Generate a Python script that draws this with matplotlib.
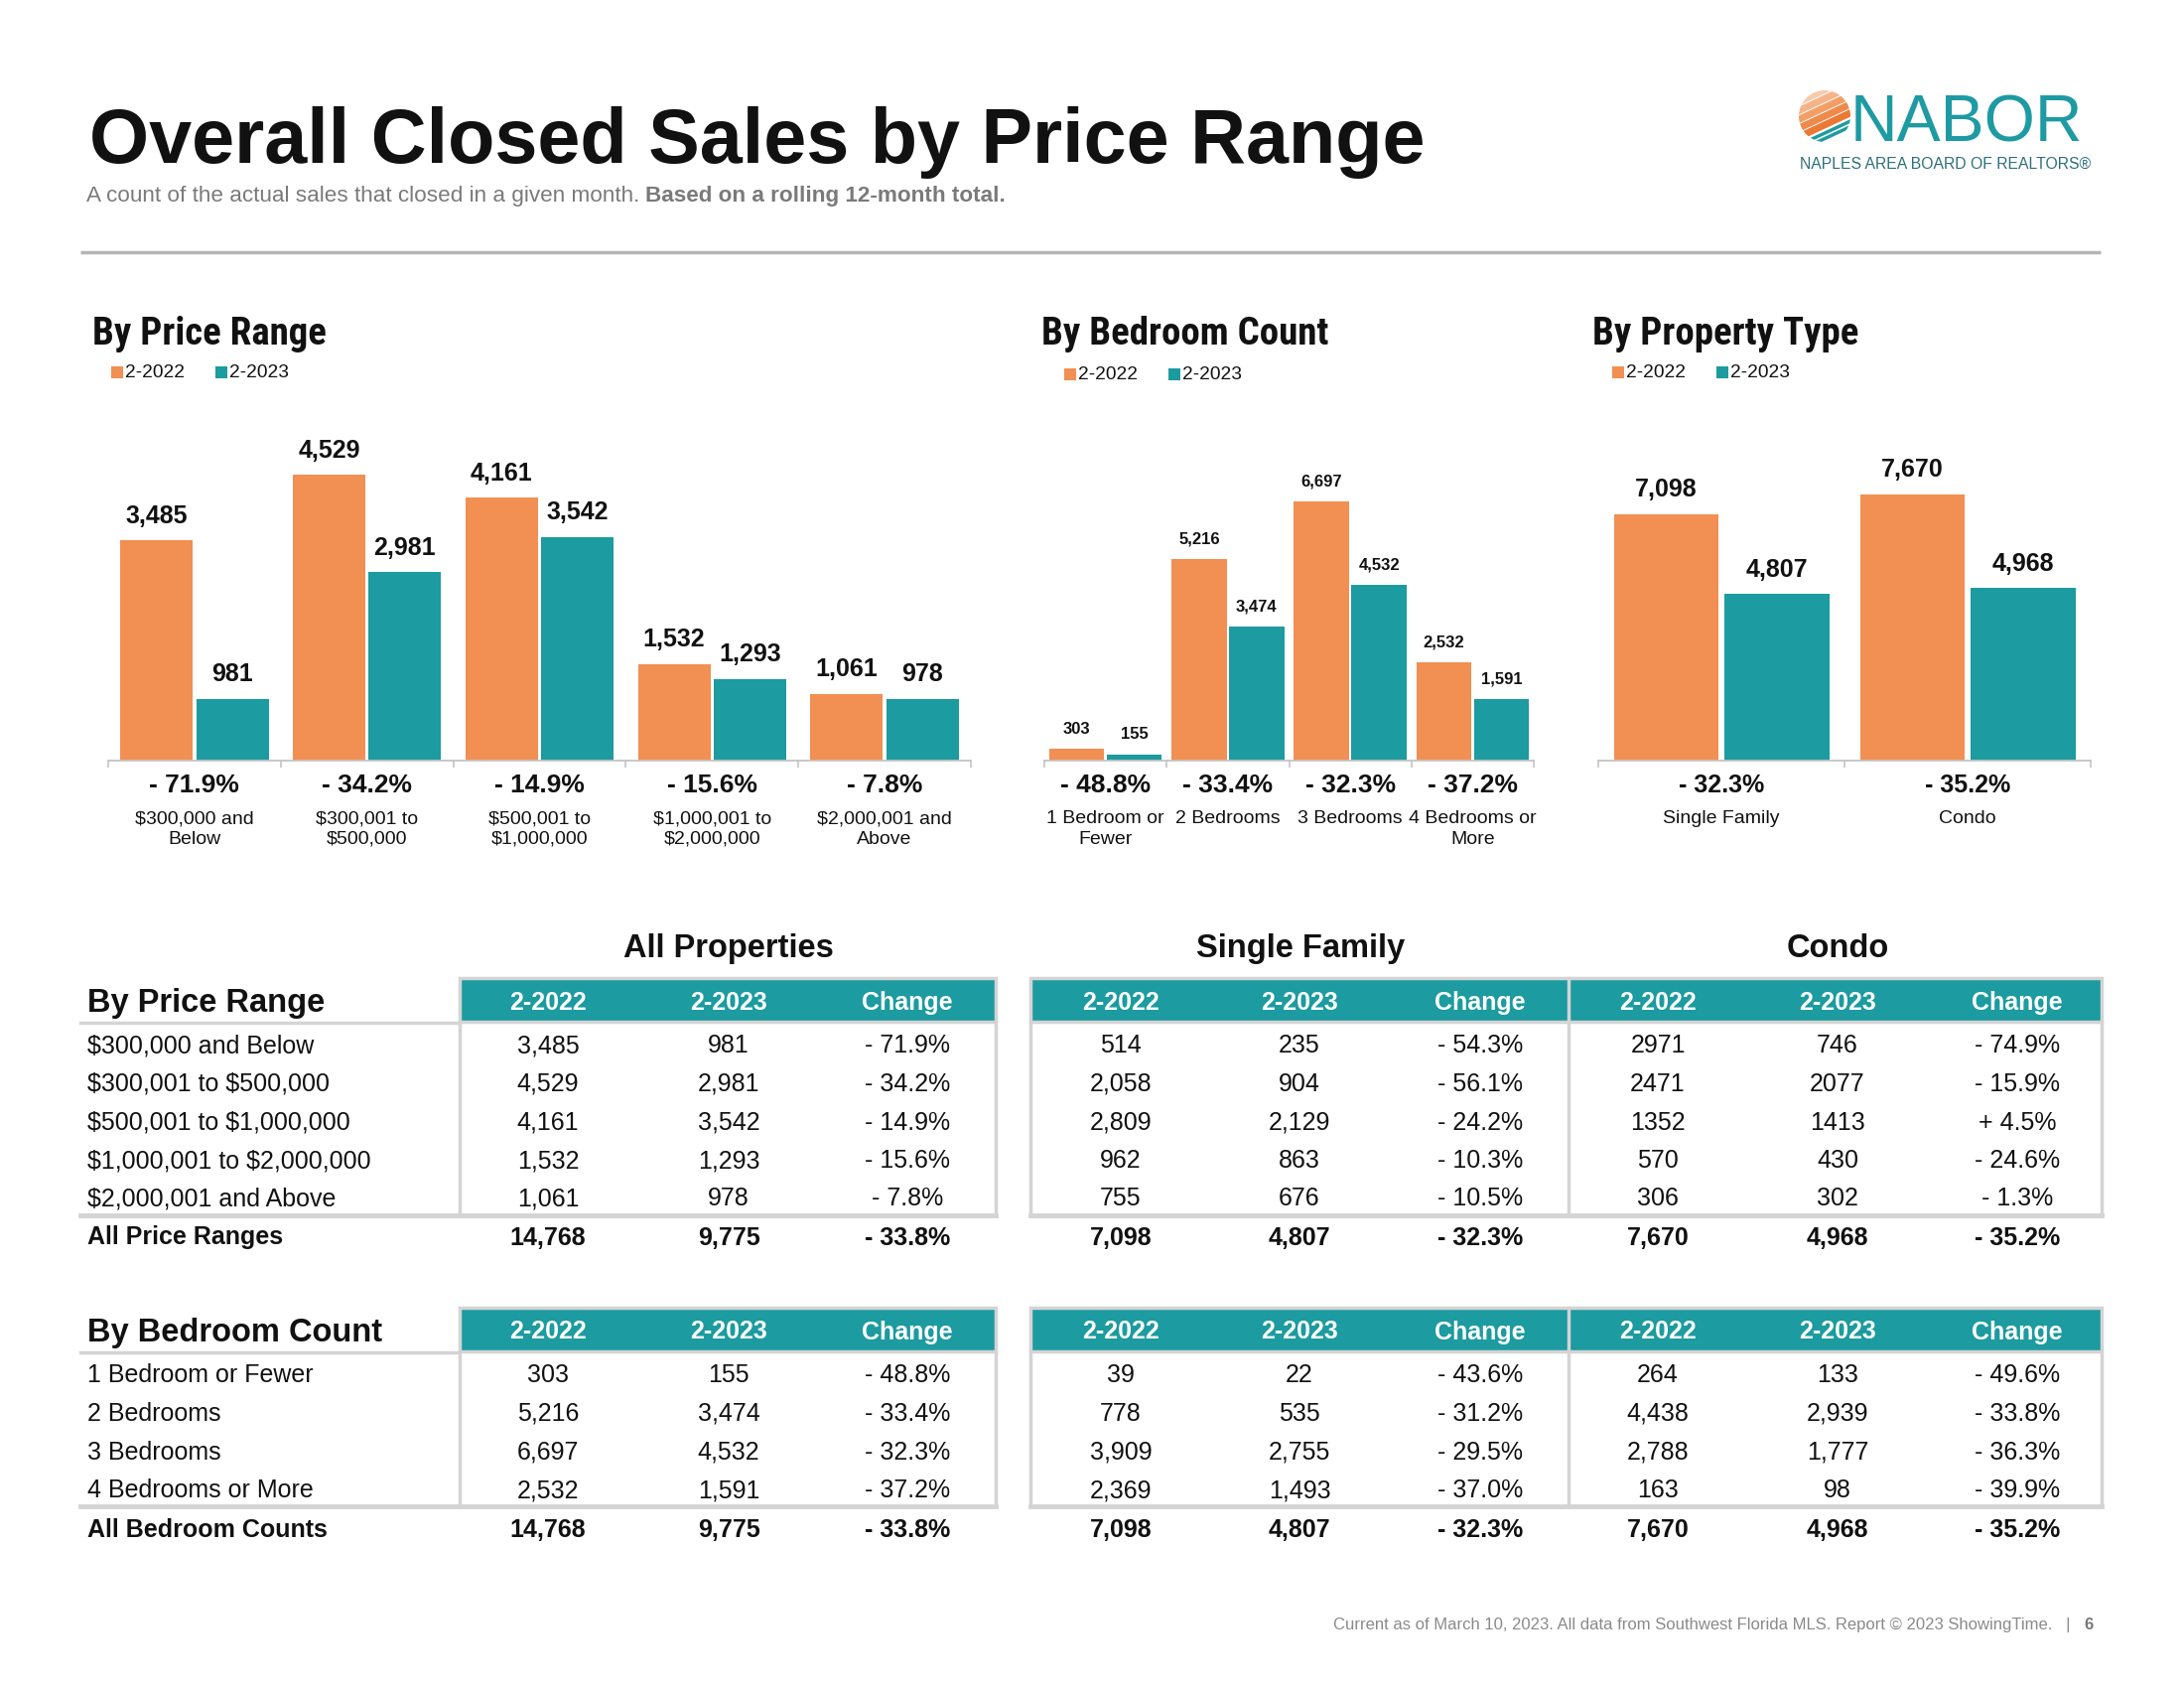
import matplotlib.pyplot as plt
from matplotlib.patches import Rectangle, Circle
import numpy as np

plt.rcParams['font.family'] = ['Liberation Sans', 'DejaVu Sans']
NARROW = ['Roboto Condensed', 'Liberation Sans Narrow', 'Roboto', 'Liberation Sans']

ORANGE = '#F28F52'
TEAL = '#1C9BA0'
INK = '#111111'

# ---- data -------------------------------------------------------------
years = ['2-2022', '2-2023']

price_ticks = ['$300,000 and\nBelow', '$300,001 to\n$500,000', '$500,001 to\n$1,000,000',
               '$1,000,001 to\n$2,000,000', '$2,000,001 and\nAbove']
price_rows = ['$300,000 and Below', '$300,001 to $500,000', '$500,001 to $1,000,000',
              '$1,000,001 to $2,000,000', '$2,000,001 and Above']
price_2022 = [3485, 4529, 4161, 1532, 1061]
price_2023 = [981, 2981, 3542, 1293, 978]
price_chg = [-71.9, -34.2, -14.9, -15.6, -7.8]

bed_ticks = ['1 Bedroom or\nFewer', '2 Bedrooms', '3 Bedrooms', '4 Bedrooms or\nMore']
bed_rows = ['1 Bedroom or Fewer', '2 Bedrooms', '3 Bedrooms', '4 Bedrooms or More']
bed_2022 = [303, 5216, 6697, 2532]
bed_2023 = [155, 3474, 4532, 1591]
bed_chg = [-48.8, -33.4, -32.3, -37.2]

type_ticks = ['Single Family', 'Condo']
type_2022 = [7098, 7670]
type_2023 = [4807, 4968]
type_chg = [-32.3, -35.2]

sf_price_2022 = [514, 2058, 2809, 962, 755]
sf_price_2023 = [235, 904, 2129, 863, 676]
sf_price_chg = [-54.3, -56.1, -24.2, -10.3, -10.5]
condo_price_2022 = [2971, 2471, 1352, 570, 306]
condo_price_2023 = [746, 2077, 1413, 430, 302]
condo_price_chg = [-74.9, -15.9, 4.5, -24.6, -1.3]

sf_bed_2022 = [39, 778, 3909, 2369]
sf_bed_2023 = [22, 535, 2755, 1493]
sf_bed_chg = [-43.6, -31.2, -29.5, -37.0]
condo_bed_2022 = [264, 4438, 2788, 163]
condo_bed_2023 = [133, 2939, 1777, 98]
condo_bed_chg = [-49.6, -33.8, -36.3, -39.9]

total_all = [14768, 9775, -33.8]
total_sf = [7098, 4807, -32.3]
total_condo = [7670, 4968, -35.2]


def pct(v):
    return ('+ ' if v > 0 else '- ') + f'{abs(v):.1f}%'


fig = plt.figure(figsize=(22, 17), dpi=100)
fig.patch.set_facecolor('white')

# overlay in pixel coords for page furniture and tables
ov = fig.add_axes([0, 0, 1, 1])
ov.set_xlim(0, 2200)
ov.set_ylim(1700, 0)
ov.axis('off')

# header
ov.text(90, 164, 'Overall Closed Sales by Price Range', fontsize=55.7, fontweight='bold',
        color=INK, va='baseline')
t1 = ov.text(87, 203, 'A count of the actual sales that closed in a given month. ',
             fontsize=16.2, color='#7a7a7a', va='baseline')
ov.annotate('Based on a rolling 12-month total.', xy=(1, 0), xycoords=t1, va='bottom',
            fontsize=16.2, color='#7a7a7a', fontweight='bold')
ov.plot([81, 2116], [254, 254], color='#B5B5B5', lw=2.5, solid_capstyle='butt')

# logo: shell made of tilted bands
shell = Circle((1838, 117), 26, facecolor='none', edgecolor='none')
ov.add_patch(shell)
ang = np.radians(25)
nrm = np.array([np.sin(ang), np.cos(ang)])
shades = ['#F8CBAA', '#F6B388', '#F49E65', '#F0894A', '#ED7834']
bands = [(t, c, 7.0) for t, c in zip([-24, -16, -8, 0, 8], shades)]
bands += [(15.5, TEAL, 3.4), (20.5, TEAL, 3.4)]
for t, c, h in bands:
    cx, cy = np.array([1838, 117]) + t * nrm
    r = Rectangle((cx - 50, cy - h / 2), 100, h, angle=-25, rotation_point='center',
                  facecolor=c, edgecolor='none')
    ov.add_patch(r)
    r.set_clip_path(shell)
ov.text(1864, 142, 'NABOR', fontsize=47.5, color='#1E9AA3', va='baseline')
ov.text(1813, 170, 'NAPLES AREA BOARD OF REALTORS®', fontsize=11.3, color='#2D6F7C',
        va='baseline')

# footer
t6 = ov.text(2109, 1641, '6', fontsize=12, fontweight='bold', color='#777777',
             ha='right', va='baseline')
ov.annotate('Current as of March 10, 2023. All data from Southwest Florida MLS. '
            'Report © 2023 ShowingTime.   |   ', xy=(0, 0), xycoords=t6, ha='right',
            va='bottom', fontsize=12, color='#8a8a8a')


# ---- bar charts -------------------------------------------------------
def legend_at(x, y):
    for k, (lab, col) in enumerate(zip(years, [ORANGE, TEAL])):
        xx = x + k * 105
        ov.scatter([xx], [y], marker='s', s=70, color=col, linewidths=0)
        ov.text(xx + 8, y, lab, fontsize=13.8, va='center', color=INK)


def bar_chart(left, right, title, tx, lx, cats, v1, v2, chg, ymax, width, off,
              val_fs, chg_fs):
    ax = fig.add_axes([left / 2200, 1 - 766 / 1700, (right - left) / 2200, 336 / 1700])
    x = np.arange(len(cats))
    b1 = ax.bar(x - off, v1, width, color=ORANGE)
    b2 = ax.bar(x + off, v2, width, color=TEAL)
    ax.bar_label(b1, labels=[f'{v:,}' for v in v1], padding=9, fontsize=val_fs,
                 fontweight='bold', color=INK)
    ax.bar_label(b2, labels=[f'{v:,}' for v in v2], padding=9, fontsize=val_fs,
                 fontweight='bold', color=INK)
    ax.set_xlim(-0.5, len(cats) - 0.5)
    ax.set_ylim(0, ymax)
    for s in ('top', 'left', 'right'):
        ax.spines[s].set_visible(False)
    ax.spines['bottom'].set_color('#C4C4C4')
    ax.spines['bottom'].set_linewidth(1.3)
    ax.set_yticks([])
    ax.set_xticks(np.arange(len(cats) + 1) - 0.5)
    ax.set_xticklabels([])
    ax.tick_params(axis='x', length=5, width=1.2, color='#C4C4C4')
    ax.patch.set_alpha(0)
    for i, (c, p) in enumerate(zip(cats, chg)):
        ax.annotate(pct(p), (i, 0), xycoords=('data', 'axes fraction'), xytext=(0, -16.5),
                    textcoords='offset points', ha='center', va='center_baseline',
                    fontsize=chg_fs, fontweight='bold', color=INK)
        ax.annotate(c, (i, 0), xycoords=('data', 'axes fraction'), xytext=(0, -36),
                    textcoords='offset points', ha='center', va='top', fontsize=14,
                    color=INK, linespacing=1.3, parse_math=False)
    ov.text(tx, 347, title, fontsize=28, fontweight='bold', family=NARROW,
            fontstretch='condensed', va='baseline', color=INK)
    legend_at(*lx)
    return ax


bar_chart(109, 978, 'By Price Range', 93, (118, 375), price_ticks, price_2022, price_2023,
          price_chg, 5284, 0.42, 0.22, 18, 19)
bar_chart(1052, 1545, 'By Bedroom Count', 1049, (1078, 377), bed_ticks, bed_2022, bed_2023,
          bed_chg, 8621, 0.45, 0.235, 12, 19)
bar_chart(1610, 2106, 'By Property Type', 1604, (1630, 375), type_ticks, type_2022, type_2023,
          type_chg, 9616, 0.427, 0.224, 18, 18)

# ---- tables -----------------------------------------------------------
cols_all = [552, 734, 914]
cols_sf = [1129, 1309, 1491]
cols_condo = [1670, 1851, 2032]

ov.text(734, 964, 'All Properties', fontsize=23.5, fontweight='bold', ha='center',
        va='baseline', color=INK)
ov.text(1310, 964, 'Single Family', fontsize=23.5, fontweight='bold', ha='center',
        va='baseline', color=INK)
ov.text(1851, 964, 'Condo', fontsize=23.5, fontweight='bold', ha='center',
        va='baseline', color=INK)


def table(band_top, title, rows, total_label, blocks, bottom_y, total_y):
    band_bot = band_top + 44
    row_y = [band_bot + 22 + i * 38.5 for i in range(len(rows))]
    # header bands
    for x0, x1 in ((463, 1003), (1038, 2117)):
        ov.add_patch(Rectangle((x0, band_top), x1 - x0, band_bot - band_top,
                               facecolor=TEAL, edgecolor='#D4D4D4', lw=2.5, zorder=2))
        ov.plot([x0, x0], [band_bot, bottom_y], color='#D4D4D4', lw=2.5)
        ov.plot([x1, x1], [band_bot, bottom_y], color='#D4D4D4', lw=2.5)
    ov.plot([1580, 1580], [band_top, bottom_y], color='#D4D4D4', lw=2.5, zorder=3)
    ov.plot([81, 463], [band_bot + 1, band_bot + 1], color='#D4D4D4', lw=2.5)
    ov.plot([81, 1003], [bottom_y, bottom_y], color='#D4D4D4', lw=3.5)
    ov.plot([1038, 2117], [bottom_y, bottom_y], color='#D4D4D4', lw=3.5)
    ov.text(88, band_top + 34, title, fontsize=23.5, fontweight='bold', va='baseline',
            color=INK)
    for lab, y in zip(rows, row_y):
        ov.text(88, y, lab, fontsize=18, va='center_baseline', color=INK, parse_math=False)
    ov.text(88, total_y, total_label, fontsize=18, fontweight='bold', va='center_baseline',
            color=INK)
    for cols, a, b, c, tot, fmt in blocks:
        for cx, head in zip(cols, years + ['Change']):
            ov.text(cx, (band_top + band_bot) / 2, head, fontsize=18, fontweight='bold',
                    color='white', ha='center', va='center_baseline', zorder=4)
        for y, va_, vb_, vc_ in zip(row_y, a, b, c):
            for cx, s in zip(cols, (fmt.format(va_), fmt.format(vb_), pct(vc_))):
                ov.text(cx, y, s, fontsize=18, ha='center', va='center_baseline', color=INK)
        for cx, s in zip(cols, (f'{tot[0]:,}', f'{tot[1]:,}', pct(tot[2]))):
            ov.text(cx, total_y, s, fontsize=18, fontweight='bold', ha='center',
                    va='center_baseline', color=INK)


table(985, 'By Price Range', price_rows, 'All Price Ranges',
      [(cols_all, price_2022, price_2023, price_chg, total_all, '{:,}'),
       (cols_sf, sf_price_2022, sf_price_2023, sf_price_chg, total_sf, '{:,}'),
       (cols_condo, condo_price_2022, condo_price_2023, condo_price_chg, total_condo, '{}')],
      1224, 1244)

table(1317, 'By Bedroom Count', bed_rows, 'All Bedroom Counts',
      [(cols_all, bed_2022, bed_2023, bed_chg, total_all, '{:,}'),
       (cols_sf, sf_bed_2022, sf_bed_2023, sf_bed_chg, total_sf, '{:,}'),
       (cols_condo, condo_bed_2022, condo_bed_2023, condo_bed_chg, total_condo, '{:,}')],
      1517, 1538)

fig.savefig('out.png', dpi=100, facecolor='white')
